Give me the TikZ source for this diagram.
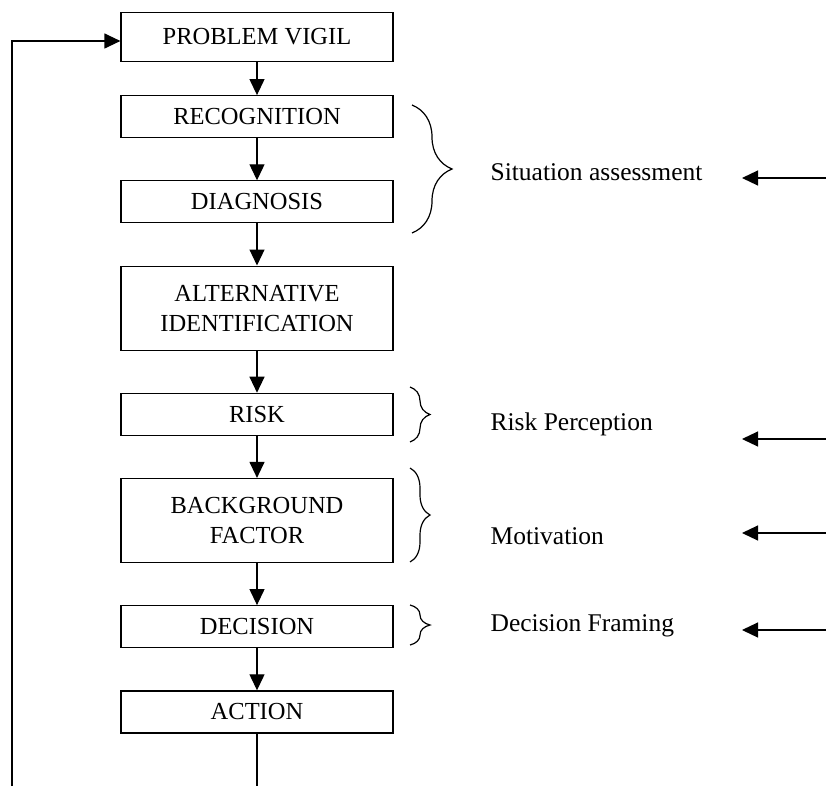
\documentclass[tikz,border=0pt]{standalone}
\usepackage{fontspec}
\setmainfont{Liberation Serif}
\usetikzlibrary{positioning, arrows.meta, decorations.pathreplacing}
\begin{document}
\begin{tikzpicture}[x = 1pt, y = -1pt, node distance = 42pt, line width = 1.2pt,
    stage/.style = {draw, minimum width = 272pt, minimum height = 42pt, inner sep = 2pt,
        align = center, font = \fontsize{24.5}{30}\selectfont},
    tall/.style = {stage, minimum height = 84pt},
    flow/.style = {-{Triangle[length = 16pt, width = 15pt]}},
    curly/.style = {decorate, decoration = {brace, amplitude = #1}},
    aspect/.style = {anchor = west, inner sep = 0pt, font = \fontsize{25.5}{30}\selectfont}]
    \useasboundingbox (0, 0) rectangle (826, 786);
    \node[stage, minimum height = 49pt] (vigil) at (257, 37) {PROBLEM VIGIL};
    \node[stage, below = 33pt of vigil] (recog) {RECOGNITION};
    \node[stage, below = of recog] (diag) {DIAGNOSIS};
    \node[tall, below = of diag] (alt) {ALTERNATIVE\\IDENTIFICATION};
    \node[stage, below = of alt] (risk) {RISK};
    \node[tall, below = of risk] (bg) {BACKGROUND\\FACTOR};
    \node[stage, below = of bg] (dec) {DECISION};
    \node[stage, below = of dec] (act) {ACTION};
    \draw[flow] (vigil) -- (recog);
    \draw[flow] (recog) -- (diag);
    \draw[flow] (diag) -- (alt);
    \draw[flow] (alt) -- (risk);
    \draw[flow] (risk) -- (bg);
    \draw[flow] (bg) -- (dec);
    \draw[flow] (dec) -- (act);
    \coordinate (loop) at (12, 786);
    \coordinate (out) at (act.south |- loop);
    \draw (act.south) -- (out);
    \draw[flow] (loop) |- ([yshift = -4pt]vigil.west);
    \draw[curly = 40pt] (412, 105) -- (412, 233);
    \draw[curly = 20pt] (410, 387) -- (410, 442);
    \draw[curly = 20pt] (410, 468) -- (410, 562);
    \draw[curly = 20pt] (410, 605) -- (410, 645);
    \node[aspect] (sit) at (490, 172) {Situation assessment};
    \node[aspect] (perc) at (490, 424) {Risk Perception};
    \node[aspect] (motiv) at (490, 536) {Motivation};
    \node[aspect] (frame) at (490, 626) {Decision Framing};
    \foreach \y [count = \i] in {178, 439, 533, 630} {
        \coordinate (src\i) at (826, \y);
        \coordinate (dst\i) at (742, \y);
        \draw[flow] (src\i) -- (dst\i);
    }
\end{tikzpicture}
\end{document}
